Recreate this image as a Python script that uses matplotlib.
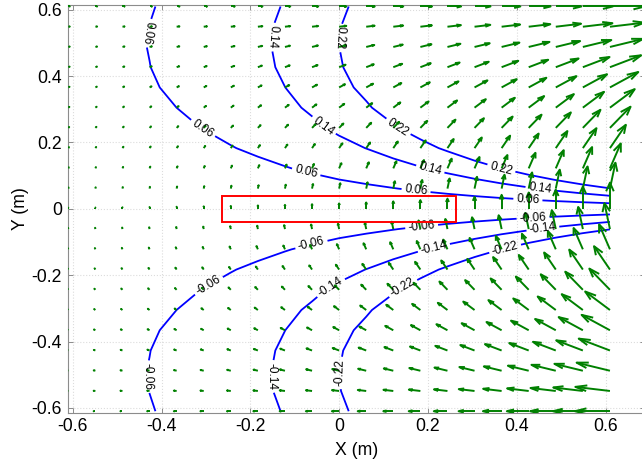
import numpy as np
import matplotlib
matplotlib.use("Agg")
import matplotlib.pyplot as plt
from matplotlib.collections import LineCollection
from matplotlib.patches import Rectangle

plt.rcParams['font.family'] = ['Liberation Sans', 'DejaVu Sans']
plt.rcParams['axes.unicode_minus'] = False

# ---------------- data ----------------
# arrow grid positions (m)
x_grid = [-0.61, -0.549, -0.488, -0.427, -0.366, -0.305, -0.244, -0.183, -0.122, -0.061, 0.0,
          0.061, 0.122, 0.183, 0.244, 0.305, 0.366, 0.427, 0.488, 0.549, 0.61]
y_grid = [-0.61, -0.549, -0.488, -0.427, -0.366, -0.305, -0.244, -0.183, -0.122, -0.061, 0.0,
          0.061, 0.122, 0.183, 0.244, 0.305, 0.366, 0.427, 0.488, 0.549, 0.61]

# contoured quantity = pot_y[row] * pot_x[col]
pot_x = [0.0353, 0.0424, 0.0509, 0.0611, 0.0734, 0.0881, 0.106, 0.127, 0.153, 0.183, 0.220,
         0.259, 0.306, 0.361, 0.425, 0.501, 0.591, 0.697, 0.822, 0.969, 1.142]
pot_y = [-0.941, -0.988, -0.999, -0.974, -0.913, -0.818, -0.694, -0.544, -0.374, -0.190, 0.0,
         0.190, 0.374, 0.544, 0.694, 0.818, 0.913, 0.974, 0.999, 0.988, 0.941]
levels = [-0.22, -0.14, -0.06, 0.06, 0.14, 0.22]

# arrow length per column (m) and arrow direction per row
arrow_len = [0.0034, 0.0040, 0.0047, 0.0055, 0.0064, 0.0075, 0.0088, 0.0103, 0.0120, 0.0140, 0.0164,
             0.0192, 0.0225, 0.0263, 0.0308, 0.0360, 0.0422, 0.0493, 0.0577, 0.0675, 0.0790]
dir_u = [-1.0, -0.988, -0.951, -0.891, -0.809, -0.707, -0.588, -0.454, -0.309, -0.156, 0.0,
         0.156, 0.309, 0.454, 0.588, 0.707, 0.809, 0.891, 0.951, 0.988, 1.0]
dir_v = [0.0, 0.156, 0.309, 0.454, 0.588, 0.707, 0.809, 0.891, 0.951, 0.988, 1.0,
         0.988, 0.951, 0.891, 0.809, 0.707, 0.588, 0.454, 0.309, 0.156, 0.0]

# red rectangle (m)
rect_x = [-0.263, 0.264]
rect_y = [-0.04, 0.04]

ticks = [-0.6, -0.4, -0.2, 0.0, 0.2, 0.4, 0.6]
tick_labels = ['-0.6', '-0.4', '-0.2', '0', '0.2', '0.4', '0.6']

# contour label anchor points (layout)
label_pos = [(-0.43, 0.53), (-0.306, 0.245), (-0.074, 0.112), (0.173, 0.052), (0.425, 0.024),
             (-0.161, 0.519), (-0.035, 0.25), (0.204, 0.112), (0.452, 0.056),
             (-0.014, 0.517), (0.132, 0.245), (0.365, 0.12),
             (-0.425, -0.505), (-0.29, -0.24), (-0.061, -0.115), (0.186, -0.055), (0.437, -0.03),
             (-0.151, -0.505), (-0.016, -0.244), (0.214, -0.121), (0.459, -0.06),
             (-0.005, -0.495), (0.145, -0.242), (0.373, -0.115)]

# ---------------- figure ----------------
fig = plt.figure(figsize=(6.42, 4.62), dpi=100)
ax = fig.add_axes([0.1064, 0.1067, 0.8983, 0.8825])
ax.set_xlim(-0.61, 0.689)
ax.set_ylim(-0.6145, 0.6145)

X, Y = np.meshgrid(x_grid, y_grid)
Z = np.outer(pot_y, pot_x)
U = np.outer(dir_u, arrow_len)
V = np.outer(dir_v, arrow_len)

# grid
ax.set_xticks(ticks)
ax.set_xticklabels(tick_labels)
ax.set_yticks(ticks)
ax.set_yticklabels(tick_labels)
ax.grid(True, color='#dcdcdc', linestyle=':', linewidth=0.8)
ax.set_axisbelow(True)

# contours
cs = ax.contour(X, Y, Z, levels=levels, colors='#0000ff', linewidths=1.3,
                linestyles='solid', zorder=2)
ax.clabel(cs, inline=True, fontsize=8.5, fmt='%g', manual=label_pos, inline_spacing=3,
          colors='black')
# upper vertical labels read top-to-bottom as in the reference
for t in cs.labelTexts:
    tx_, ty_ = t.get_position()
    r = t.get_rotation() % 360
    if ty_ > 0.3 and (80 < r < 100):
        t.set_rotation(r + 180)

# arrows (MATLAB-style open heads)
alpha, beta = 0.33, 0.33
xs, ys, us, vs = X.ravel(), Y.ravel(), U.ravel(), V.ravel()
segs = []
for x0, y0, u, v in zip(xs, ys, us, vs):
    tx, ty = x0 + u, y0 + v
    segs.append([(x0, y0), (tx, ty)])
    segs.append([(tx - alpha * (u + beta * v), ty - alpha * (v - beta * u)),
                 (tx, ty),
                 (tx - alpha * (u - beta * v), ty - alpha * (v + beta * u))])
lc = LineCollection(segs, colors='#008000', linewidths=1.4, capstyle='butt',
                    joinstyle='round', zorder=3)
ax.add_collection(lc)

ax.add_patch(Rectangle((rect_x[0], rect_y[0]), rect_x[1] - rect_x[0], rect_y[1] - rect_y[0],
                       fill=False, edgecolor='#ff0000', linewidth=1.4, zorder=4))

for s in ax.spines.values():
    s.set_color('#8c8c8c')
    s.set_linewidth(0.8)
ax.tick_params(direction='in', length=3.6, width=0.7, color='#8c8c8c',
               top=True, right=True, labelsize=12.7, labelcolor='black')
ax.tick_params(axis='x', pad=4)
ax.tick_params(axis='y', pad=4.5)
ax.set_xlabel('X (m)', fontsize=12.7, labelpad=5)
ax.set_ylabel('Y (m)', fontsize=12.7, labelpad=2)

fig.savefig('out.png', dpi=100)
